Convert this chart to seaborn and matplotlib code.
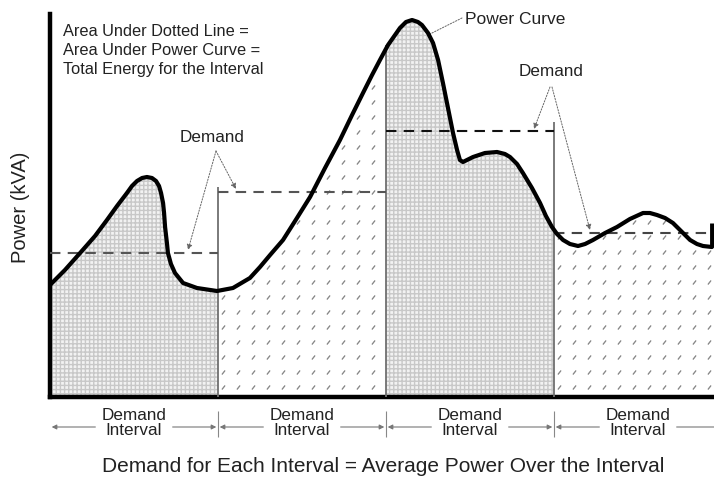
import numpy as np
import pandas as pd
import seaborn as sns
import matplotlib.pyplot as plt
from matplotlib.patches import Polygon

sns.set_style('white')
plt.rcParams['font.family'] = ['Liberation Sans', 'DejaVu Sans']

# power curve (time in demand intervals, power in arbitrary kVA units)
time = [0.000, 0.089, 0.179, 0.268, 0.339, 0.399, 0.458, 0.488, 0.518, 0.548,
        0.577, 0.607, 0.631, 0.649, 0.661, 0.673, 0.679, 0.685, 0.696, 0.702,
        0.720, 0.744, 0.792, 0.875, 0.994, 1.089, 1.190, 1.250, 1.310, 1.387,
        1.470, 1.548, 1.637, 1.726, 1.798, 1.863, 1.917, 1.964, 2.012, 2.083,
        2.119, 2.155, 2.190, 2.214, 2.250, 2.280, 2.310, 2.339, 2.369, 2.399,
        2.423, 2.440, 2.458, 2.518, 2.589, 2.661, 2.708, 2.738, 2.780, 2.815,
        2.869, 2.917, 2.952, 2.988, 3.018, 3.054, 3.095, 3.143, 3.185, 3.232,
        3.304, 3.375, 3.452, 3.530, 3.571, 3.613, 3.661, 3.708, 3.762, 3.810,
        3.851, 3.887, 3.940]
power = [112, 127, 144, 161, 177, 191, 204, 211, 216, 219,
         220, 219, 216, 211, 204, 194, 184, 170, 154, 144,
         133, 124, 114, 109, 106, 109, 119, 130, 142, 157,
         179, 200, 229, 257, 282, 304, 322, 337, 352, 369,
         375, 377, 375, 372, 364, 354, 337, 314, 289, 264,
         247, 237, 235, 240, 244, 245, 243, 240, 233, 224,
         209, 194, 181, 170, 163, 157, 153, 151, 153, 157,
         164, 170, 178, 184, 184, 182, 179, 174, 165, 157,
         153, 151, 150]

intervals = [0, 1, 2, 3]
demand = [144, 205, 266, 164]
stippled = [True, False, True, False]
demand_colors = ['#555555', '#555555', '#111111', '#444444']
boundary_tops = [210, 352, 275]

note_text = 'Area Under Dotted Line =\nArea Under Power Curve =\nTotal Energy for the Interval'
interval_label = 'Demand\nInterval'
caption = 'Demand for Each Interval = Average Power Over the Interval'

df = pd.DataFrame({'time': time, 'power': power})


def fx(px):
    return (px - 50) / 168.0


def fy(py):
    return 397 - py


fig = plt.figure(figsize=(7.14, 4.79), dpi=100)
ax = fig.add_axes([50 / 714, 82 / 479, 664 / 714, 383 / 479])
ax.set_xlim(0, 664 / 168)
ax.set_ylim(0, 383)

t = np.array(time)
p = np.array(power)

# fills under the curve, one per interval
for i, st in zip(intervals, stippled):
    a, b = i, min(i + 1, t[-1])
    inside = (t > a) & (t < b)
    xs = np.concatenate([[a], t[inside], [b]])
    ys = np.interp(xs, t, p)
    verts = list(zip(xs, ys)) + [(b, 0), (a, 0)]
    if st:
        poly = Polygon(verts, closed=True, facecolor='#f2f2f2', edgecolor='#c8c8c8',
                       hatch='++++', linewidth=0, zorder=1)
        ax.add_patch(poly)
    else:
        poly = Polygon(verts, closed=True, facecolor='white', edgecolor='none',
                       linewidth=0, zorder=1)
        ax.add_patch(poly)
        gx, gy = np.meshgrid(np.arange(a + 0.03, b, 15 / 168), np.arange(10, 383, 15))
        sc = ax.scatter(gx.ravel(), gy.ravel(), marker=(2, 2, -40), s=9,
                        linewidths=0.7, color='#8a8a8a', zorder=2)
        sc.set_clip_path(poly)

# interval boundaries
ax.vlines([1, 2, 3], 0, boundary_tops, color='#707070', lw=1.3, zorder=3)

# demand levels
for i, d, c in zip(intervals, demand, demand_colors):
    ax.hlines(d, i, i + 1, color=c, lw=1.5, linestyles=(0, (5, 3.5)), zorder=4)

sns.lineplot(data=df, x='time', y='power', color='black', lw=3, sort=False,
             estimator=None, ax=ax, zorder=5)
# short dark bar at the right edge, as in the source
ax.vlines(fx(712), 150, 174, color='black', lw=3.5, zorder=5, clip_on=False)

ax.set_xlabel('')
ax.set_ylabel('')
ax.set_xticks([])
ax.set_yticks([])
for s in ['top', 'right']:
    ax.spines[s].set_visible(False)
for s in ['left', 'bottom']:
    ax.spines[s].set_linewidth(3.2)
    ax.spines[s].set_color('black')

# labels and call-outs
txt_kw = dict(color='#222222', clip_on=False)
ax.text(fx(63), fy(24), note_text, fontsize=11.8, va='top', ha='left',
        linespacing=1.35, **txt_kw)

arrow_kw = dict(arrowstyle='-|>', color='#666666', lw=0.7, linestyle=(0, (1.5, 1.5)),
                mutation_scale=8, shrinkA=0, shrinkB=0)
ax.text(fx(212), fy(137), 'Demand', fontsize=12.3, ha='center', va='center', **txt_kw)
ax.annotate('', xy=(fx(236), fy(189)), xytext=(fx(216), fy(151)), arrowprops=arrow_kw)
ax.annotate('', xy=(fx(188), fy(250)), xytext=(fx(216), fy(151)), arrowprops=arrow_kw)

ax.text(fx(515), fy(20), 'Power Curve', fontsize=12.5, ha='center', va='center', **txt_kw)
ax.annotate('', xy=(fx(430), fy(34)), xytext=(fx(462), fy(18)),
            arrowprops=dict(arrowstyle='-', color='#666666', lw=0.7,
                            linestyle=(0, (1.5, 1.5)), shrinkA=0, shrinkB=0))

ax.text(fx(551), fy(72), 'Demand', fontsize=12.3, ha='center', va='center', **txt_kw)
ax.annotate('', xy=(fx(534), fy(129)), xytext=(fx(550), fy(87)), arrowprops=arrow_kw)
ax.annotate('', xy=(fx(590), fy(230)), xytext=(fx(552), fy(87)), arrowprops=arrow_kw)

# demand interval markers under the axis
int_arrow = dict(arrowstyle='-|>', color='#777777', lw=0.8, mutation_scale=7,
                 shrinkA=0, shrinkB=0)
for i in intervals:
    c = i + 0.5
    ax.text(c, fy(423), interval_label, fontsize=12.3, ha='center', va='center',
            linespacing=1.05, **txt_kw)
    ax.annotate('', xy=(i + 0.01, fy(427)), xytext=(c - 0.23, fy(427)),
                arrowprops=int_arrow, annotation_clip=False)
    ax.annotate('', xy=(i + 0.99, fy(427)), xytext=(c + 0.23, fy(427)),
                arrowprops=int_arrow, annotation_clip=False)
ax.vlines([1, 2, 3], fy(411), fy(437), color='#888888', lw=0.8, clip_on=False)

ax.text(fx(383), fy(467), caption, fontsize=15, ha='center', va='center', **txt_kw)
ax.text(fx(21), fy(207), 'Power (kVA)', fontsize=14.5, rotation=90, ha='center',
        va='center', **txt_kw)

fig.savefig('out.png', dpi=100)
